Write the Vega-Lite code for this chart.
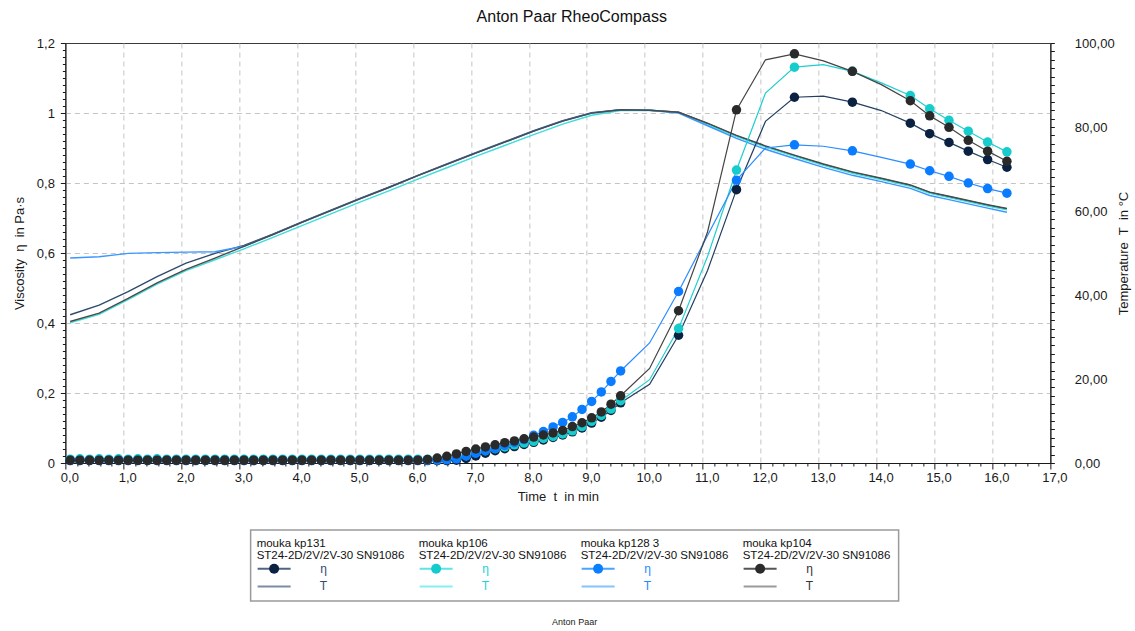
{
"$schema": "https://vega.github.io/schema/vega-lite/v6.json",
"padding": {"left": 12, "top": 8, "right": 2, "bottom": 2},
"background": "white",
"title": {"text": "Anton Paar RheoCompass", "fontSize": 16, "fontWeight": "normal", "color": "#111111", "anchor": "middle", "offset": 12},
"config": {
  "font": "Liberation Sans",
  "view": {"stroke": null},
  "axis": {"domainColor": "#1a1a1a", "domainWidth": 1, "tickColor": "#1a1a1a", "tickWidth": 1, "labelColor": "#1a1a1a", "labelFontSize": 13, "titleFontSize": 13, "titleFontWeight": "normal", "titleColor": "#1a1a1a", "labelOverlap": false, "labelFlush": false, "gridColor": "#c4c4c4", "gridDash": [5, 4], "gridWidth": 1}
},
"spacing": 25,
"center": true,
"datasets": {
"rheo": [
{"s":"kp131","t":0.083,"eta":0.007,"T":35.3},{"s":"kp131","t":0.25,"eta":0.007},{"s":"kp131","t":0.417,"eta":0.007},
{"s":"kp131","t":0.583,"eta":0.007,"T":37.6},{"s":"kp131","t":0.75,"eta":0.007},{"s":"kp131","t":0.917,"eta":0.007},
{"s":"kp131","t":1.083,"eta":0.007,"T":40.8},{"s":"kp131","t":1.25,"eta":0.007},{"s":"kp131","t":1.417,"eta":0.007},
{"s":"kp131","t":1.583,"eta":0.007,"T":44.4},{"s":"kp131","t":1.75,"eta":0.007},{"s":"kp131","t":1.917,"eta":0.007},
{"s":"kp131","t":2.083,"eta":0.007,"T":47.6},{"s":"kp131","t":2.25,"eta":0.007},{"s":"kp131","t":2.417,"eta":0.007},
{"s":"kp131","t":2.583,"eta":0.007,"T":49.9},{"s":"kp131","t":2.75,"eta":0.007},{"s":"kp131","t":2.917,"eta":0.007},
{"s":"kp131","t":3.083,"eta":0.007,"T":51.8},{"s":"kp131","t":3.25,"eta":0.007},{"s":"kp131","t":3.417,"eta":0.007},
{"s":"kp131","t":3.583,"eta":0.007,"T":54.5},{"s":"kp131","t":3.75,"eta":0.007},{"s":"kp131","t":3.917,"eta":0.007},
{"s":"kp131","t":4.083,"eta":0.007,"T":57.4},{"s":"kp131","t":4.25,"eta":0.007},{"s":"kp131","t":4.417,"eta":0.007},
{"s":"kp131","t":4.583,"eta":0.007,"T":60.2},{"s":"kp131","t":4.75,"eta":0.007},{"s":"kp131","t":4.917,"eta":0.007},
{"s":"kp131","t":5.083,"eta":0.007,"T":63.0},{"s":"kp131","t":5.25,"eta":0.007},{"s":"kp131","t":5.417,"eta":0.007},
{"s":"kp131","t":5.583,"eta":0.007,"T":65.7},{"s":"kp131","t":5.75,"eta":0.007},{"s":"kp131","t":5.917,"eta":0.007},
{"s":"kp131","t":6.083,"eta":0.007,"T":68.5},{"s":"kp131","t":6.25,"eta":0.007},{"s":"kp131","t":6.417,"eta":0.007},
{"s":"kp131","t":6.583,"eta":0.007,"T":71.2},{"s":"kp131","t":6.75,"eta":0.008},{"s":"kp131","t":6.917,"eta":0.013},
{"s":"kp131","t":7.083,"eta":0.020,"T":73.9},{"s":"kp131","t":7.25,"eta":0.028},{"s":"kp131","t":7.417,"eta":0.035},
{"s":"kp131","t":7.583,"eta":0.041,"T":76.5},{"s":"kp131","t":7.75,"eta":0.047},{"s":"kp131","t":7.917,"eta":0.053},
{"s":"kp131","t":8.083,"eta":0.059,"T":79.1},{"s":"kp131","t":8.25,"eta":0.066},{"s":"kp131","t":8.417,"eta":0.073},
{"s":"kp131","t":8.583,"eta":0.080,"T":81.5},{"s":"kp131","t":8.75,"eta":0.089},{"s":"kp131","t":8.917,"eta":0.100},
{"s":"kp131","t":9.083,"eta":0.114,"T":83.4},{"s":"kp131","t":9.25,"eta":0.131},{"s":"kp131","t":9.417,"eta":0.150},
{"s":"kp131","t":9.583,"eta":0.172,"T":84.1},
{"s":"kp131","t":10.083,"eta":0.225,"T":84.0,"m":0},{"s":"kp131","t":10.583,"eta":0.365,"T":83.5},
{"s":"kp131","t":11.083,"eta":0.55,"T":80.8,"m":0},{"s":"kp131","t":11.583,"eta":0.781,"T":77.9},
{"s":"kp131","t":12.083,"eta":0.976,"T":75.4,"m":0},{"s":"kp131","t":12.583,"eta":1.045,"T":73.2},
{"s":"kp131","t":13.083,"eta":1.048,"T":71.1,"m":0},{"s":"kp131","t":13.583,"eta":1.031,"T":69.2},
{"s":"kp131","t":14.083,"eta":1.007,"T":67.7,"m":0},{"s":"kp131","t":14.583,"eta":0.971,"T":66.1},
{"s":"kp131","t":14.917,"eta":0.941,"T":64.4},{"s":"kp131","t":15.25,"eta":0.916,"T":63.4},
{"s":"kp131","t":15.583,"eta":0.891,"T":62.4},{"s":"kp131","t":15.917,"eta":0.867,"T":61.4},
{"s":"kp131","t":16.25,"eta":0.845,"T":60.5},

{"s":"kp106","t":0.083,"eta":0.011,"T":33.4},{"s":"kp106","t":0.25,"eta":0.012},{"s":"kp106","t":0.417,"eta":0.011},
{"s":"kp106","t":0.583,"eta":0.012,"T":35.4},{"s":"kp106","t":0.75,"eta":0.011},{"s":"kp106","t":0.917,"eta":0.012},
{"s":"kp106","t":1.083,"eta":0.011,"T":38.9},{"s":"kp106","t":1.25,"eta":0.012},{"s":"kp106","t":1.417,"eta":0.011},
{"s":"kp106","t":1.583,"eta":0.012,"T":42.6},{"s":"kp106","t":1.75,"eta":0.011},{"s":"kp106","t":1.917,"eta":0.011},
{"s":"kp106","t":2.083,"eta":0.011,"T":45.8},{"s":"kp106","t":2.25,"eta":0.011},{"s":"kp106","t":2.417,"eta":0.011},
{"s":"kp106","t":2.583,"eta":0.011,"T":48.4},{"s":"kp106","t":2.75,"eta":0.011},{"s":"kp106","t":2.917,"eta":0.011},
{"s":"kp106","t":3.083,"eta":0.011,"T":51.0},{"s":"kp106","t":3.25,"eta":0.011},{"s":"kp106","t":3.417,"eta":0.011},
{"s":"kp106","t":3.583,"eta":0.011,"T":53.7},{"s":"kp106","t":3.75,"eta":0.011},{"s":"kp106","t":3.917,"eta":0.011},
{"s":"kp106","t":4.083,"eta":0.011,"T":56.5},{"s":"kp106","t":4.25,"eta":0.011},{"s":"kp106","t":4.417,"eta":0.011},
{"s":"kp106","t":4.583,"eta":0.011,"T":59.3},{"s":"kp106","t":4.75,"eta":0.011},{"s":"kp106","t":4.917,"eta":0.011},
{"s":"kp106","t":5.083,"eta":0.011,"T":62.1},{"s":"kp106","t":5.25,"eta":0.011},{"s":"kp106","t":5.417,"eta":0.011},
{"s":"kp106","t":5.583,"eta":0.011,"T":64.8},{"s":"kp106","t":5.75,"eta":0.011},{"s":"kp106","t":5.917,"eta":0.011},
{"s":"kp106","t":6.083,"eta":0.011,"T":67.6},{"s":"kp106","t":6.25,"eta":0.011},{"s":"kp106","t":6.417,"eta":0.011},
{"s":"kp106","t":6.583,"eta":0.013,"T":70.3},{"s":"kp106","t":6.75,"eta":0.017},{"s":"kp106","t":6.917,"eta":0.021},
{"s":"kp106","t":7.083,"eta":0.029,"T":73.0},{"s":"kp106","t":7.25,"eta":0.035},{"s":"kp106","t":7.417,"eta":0.041},
{"s":"kp106","t":7.583,"eta":0.046,"T":75.6},{"s":"kp106","t":7.75,"eta":0.052},{"s":"kp106","t":7.917,"eta":0.057},
{"s":"kp106","t":8.083,"eta":0.062,"T":78.2},{"s":"kp106","t":8.25,"eta":0.070},{"s":"kp106","t":8.417,"eta":0.076},
{"s":"kp106","t":8.583,"eta":0.083,"T":80.7},{"s":"kp106","t":8.75,"eta":0.092},{"s":"kp106","t":8.917,"eta":0.104},
{"s":"kp106","t":9.083,"eta":0.119,"T":82.8},{"s":"kp106","t":9.25,"eta":0.136},{"s":"kp106","t":9.417,"eta":0.154},
{"s":"kp106","t":9.583,"eta":0.178,"T":83.9},
{"s":"kp106","t":10.083,"eta":0.238,"T":84.0,"m":0},{"s":"kp106","t":10.583,"eta":0.384,"T":83.4},
{"s":"kp106","t":11.083,"eta":0.59,"T":80.6,"m":0},{"s":"kp106","t":11.583,"eta":0.837,"T":77.7},
{"s":"kp106","t":12.083,"eta":1.057,"T":75.2,"m":0},{"s":"kp106","t":12.583,"eta":1.131,"T":73.0},
{"s":"kp106","t":13.083,"eta":1.138,"T":70.9,"m":0},{"s":"kp106","t":13.583,"eta":1.119,"T":69.0},
{"s":"kp106","t":14.083,"eta":1.086,"T":67.5,"m":0},{"s":"kp106","t":14.583,"eta":1.05,"T":65.9},
{"s":"kp106","t":14.917,"eta":1.012,"T":64.2},{"s":"kp106","t":15.25,"eta":0.979,"T":63.2},
{"s":"kp106","t":15.583,"eta":0.948,"T":62.2},{"s":"kp106","t":15.917,"eta":0.917,"T":61.2},
{"s":"kp106","t":16.25,"eta":0.889,"T":60.3},

{"s":"kp128","t":0.083,"eta":0.008,"T":48.8},{"s":"kp128","t":0.25,"eta":0.008},{"s":"kp128","t":0.417,"eta":0.008},
{"s":"kp128","t":0.583,"eta":0.008,"T":49.1},{"s":"kp128","t":0.75,"eta":0.008},{"s":"kp128","t":0.917,"eta":0.008},
{"s":"kp128","t":1.083,"eta":0.008,"T":49.9},{"s":"kp128","t":1.25,"eta":0.008},{"s":"kp128","t":1.417,"eta":0.008},
{"s":"kp128","t":1.583,"eta":0.008,"T":50.1},{"s":"kp128","t":1.75,"eta":0.008},{"s":"kp128","t":1.917,"eta":0.008},
{"s":"kp128","t":2.083,"eta":0.008,"T":50.2},{"s":"kp128","t":2.25,"eta":0.008},{"s":"kp128","t":2.417,"eta":0.008},
{"s":"kp128","t":2.583,"eta":0.008,"T":50.3},{"s":"kp128","t":2.75,"eta":0.008},{"s":"kp128","t":2.917,"eta":0.008},
{"s":"kp128","t":3.083,"eta":0.008,"T":51.6},{"s":"kp128","t":3.25,"eta":0.008},{"s":"kp128","t":3.417,"eta":0.008},
{"s":"kp128","t":3.583,"eta":0.008,"T":54.4},{"s":"kp128","t":3.75,"eta":0.008},{"s":"kp128","t":3.917,"eta":0.008},
{"s":"kp128","t":4.083,"eta":0.008,"T":57.3},{"s":"kp128","t":4.25,"eta":0.008},{"s":"kp128","t":4.417,"eta":0.008},
{"s":"kp128","t":4.583,"eta":0.008,"T":60.1},{"s":"kp128","t":4.75,"eta":0.008},{"s":"kp128","t":4.917,"eta":0.008},
{"s":"kp128","t":5.083,"eta":0.008,"T":62.9},{"s":"kp128","t":5.25,"eta":0.008},{"s":"kp128","t":5.417,"eta":0.008},
{"s":"kp128","t":5.583,"eta":0.008,"T":65.6},{"s":"kp128","t":5.75,"eta":0.008},{"s":"kp128","t":5.917,"eta":0.008},
{"s":"kp128","t":6.083,"eta":0.008,"T":68.4},{"s":"kp128","t":6.25,"eta":0.008},{"s":"kp128","t":6.417,"eta":0.008},
{"s":"kp128","t":6.583,"eta":0.009,"T":71.1},{"s":"kp128","t":6.75,"eta":0.012},{"s":"kp128","t":6.917,"eta":0.020},
{"s":"kp128","t":7.083,"eta":0.028,"T":73.8},{"s":"kp128","t":7.25,"eta":0.035},{"s":"kp128","t":7.417,"eta":0.042},
{"s":"kp128","t":7.583,"eta":0.050,"T":76.4},{"s":"kp128","t":7.75,"eta":0.058},{"s":"kp128","t":7.917,"eta":0.067},
{"s":"kp128","t":8.083,"eta":0.079,"T":79.0},{"s":"kp128","t":8.25,"eta":0.090},{"s":"kp128","t":8.417,"eta":0.103},
{"s":"kp128","t":8.583,"eta":0.116,"T":81.4},{"s":"kp128","t":8.75,"eta":0.132},{"s":"kp128","t":8.917,"eta":0.153},
{"s":"kp128","t":9.083,"eta":0.176,"T":83.3},{"s":"kp128","t":9.25,"eta":0.203},{"s":"kp128","t":9.417,"eta":0.233},
{"s":"kp128","t":9.583,"eta":0.263,"T":84.1},
{"s":"kp128","t":10.083,"eta":0.343,"T":84.0,"m":0},{"s":"kp128","t":10.583,"eta":0.49,"T":83.3},
{"s":"kp128","t":11.083,"eta":0.65,"T":80.3,"m":0},{"s":"kp128","t":11.583,"eta":0.808,"T":77.3},
{"s":"kp128","t":12.083,"eta":0.9,"T":74.7,"m":0},{"s":"kp128","t":12.583,"eta":0.909,"T":72.5},
{"s":"kp128","t":13.083,"eta":0.905,"T":70.4,"m":0},{"s":"kp128","t":13.583,"eta":0.892,"T":68.5},
{"s":"kp128","t":14.083,"eta":0.873,"T":67.0,"m":0},{"s":"kp128","t":14.583,"eta":0.854,"T":65.4},
{"s":"kp128","t":14.917,"eta":0.835,"T":63.7},{"s":"kp128","t":15.25,"eta":0.819,"T":62.7},
{"s":"kp128","t":15.583,"eta":0.8,"T":61.7},{"s":"kp128","t":15.917,"eta":0.784,"T":60.7},
{"s":"kp128","t":16.25,"eta":0.771,"T":59.7},

{"s":"kp104","t":0.083,"eta":0.008,"T":33.7},{"s":"kp104","t":0.25,"eta":0.008},{"s":"kp104","t":0.417,"eta":0.008},
{"s":"kp104","t":0.583,"eta":0.008,"T":35.7},{"s":"kp104","t":0.75,"eta":0.008},{"s":"kp104","t":0.917,"eta":0.008},
{"s":"kp104","t":1.083,"eta":0.008,"T":39.2},{"s":"kp104","t":1.25,"eta":0.008},{"s":"kp104","t":1.417,"eta":0.008},
{"s":"kp104","t":1.583,"eta":0.008,"T":42.9},{"s":"kp104","t":1.75,"eta":0.008},{"s":"kp104","t":1.917,"eta":0.008},
{"s":"kp104","t":2.083,"eta":0.008,"T":46.1},{"s":"kp104","t":2.25,"eta":0.008},{"s":"kp104","t":2.417,"eta":0.008},
{"s":"kp104","t":2.583,"eta":0.008,"T":48.8},{"s":"kp104","t":2.75,"eta":0.008},{"s":"kp104","t":2.917,"eta":0.008},
{"s":"kp104","t":3.083,"eta":0.008,"T":51.6},{"s":"kp104","t":3.25,"eta":0.008},{"s":"kp104","t":3.417,"eta":0.008},
{"s":"kp104","t":3.583,"eta":0.008,"T":54.4},{"s":"kp104","t":3.75,"eta":0.008},{"s":"kp104","t":3.917,"eta":0.008},
{"s":"kp104","t":4.083,"eta":0.008,"T":57.3},{"s":"kp104","t":4.25,"eta":0.008},{"s":"kp104","t":4.417,"eta":0.008},
{"s":"kp104","t":4.583,"eta":0.008,"T":60.1},{"s":"kp104","t":4.75,"eta":0.008},{"s":"kp104","t":4.917,"eta":0.008},
{"s":"kp104","t":5.083,"eta":0.008,"T":62.9},{"s":"kp104","t":5.25,"eta":0.008},{"s":"kp104","t":5.417,"eta":0.008},
{"s":"kp104","t":5.583,"eta":0.008,"T":65.6},{"s":"kp104","t":5.75,"eta":0.008},{"s":"kp104","t":5.917,"eta":0.008},
{"s":"kp104","t":6.083,"eta":0.008,"T":68.4},{"s":"kp104","t":6.25,"eta":0.010},{"s":"kp104","t":6.417,"eta":0.014},
{"s":"kp104","t":6.583,"eta":0.019,"T":71.1},{"s":"kp104","t":6.75,"eta":0.026},{"s":"kp104","t":6.917,"eta":0.033},
{"s":"kp104","t":7.083,"eta":0.040,"T":73.8},{"s":"kp104","t":7.25,"eta":0.046},{"s":"kp104","t":7.417,"eta":0.052},
{"s":"kp104","t":7.583,"eta":0.058,"T":76.4},{"s":"kp104","t":7.75,"eta":0.063},{"s":"kp104","t":7.917,"eta":0.069},
{"s":"kp104","t":8.083,"eta":0.074,"T":79.0},{"s":"kp104","t":8.25,"eta":0.080},{"s":"kp104","t":8.417,"eta":0.086},
{"s":"kp104","t":8.583,"eta":0.093,"T":81.4},{"s":"kp104","t":8.75,"eta":0.104},{"s":"kp104","t":8.917,"eta":0.115},
{"s":"kp104","t":9.083,"eta":0.129,"T":83.3},{"s":"kp104","t":9.25,"eta":0.146},{"s":"kp104","t":9.417,"eta":0.168},
{"s":"kp104","t":9.583,"eta":0.192,"T":84.1},
{"s":"kp104","t":10.083,"eta":0.27,"T":84.0,"m":0},{"s":"kp104","t":10.583,"eta":0.435,"T":83.5},
{"s":"kp104","t":11.083,"eta":0.66,"T":80.9,"m":0},{"s":"kp104","t":11.583,"eta":1.009,"T":78.0},
{"s":"kp104","t":12.083,"eta":1.152,"T":75.5,"m":0},{"s":"kp104","t":12.583,"eta":1.169,"T":73.3},
{"s":"kp104","t":13.083,"eta":1.149,"T":71.2,"m":0},{"s":"kp104","t":13.583,"eta":1.119,"T":69.3},
{"s":"kp104","t":14.083,"eta":1.081,"T":67.8,"m":0},{"s":"kp104","t":14.583,"eta":1.035,"T":66.2},
{"s":"kp104","t":14.917,"eta":0.992,"T":64.5},{"s":"kp104","t":15.25,"eta":0.959,"T":63.5},
{"s":"kp104","t":15.583,"eta":0.922,"T":62.5},{"s":"kp104","t":15.917,"eta":0.891,"T":61.5},
{"s":"kp104","t":16.25,"eta":0.862,"T":60.6}
],
"leg": [
{"s":"kp131","row":"header","label":"mouka kp131\nST24-2D/2V/2V-30 SN91086"},
{"s":"kp131","row":"eta","label":"η"},{"s":"kp131","row":"T","label":"T"},
{"s":"kp106","row":"header","label":"mouka kp106\nST24-2D/2V/2V-30 SN91086"},
{"s":"kp106","row":"eta","label":"η"},{"s":"kp106","row":"T","label":"T"},
{"s":"kp128","row":"header","label":"mouka kp128 3\nST24-2D/2V/2V-30 SN91086"},
{"s":"kp128","row":"eta","label":"η"},{"s":"kp128","row":"T","label":"T"},
{"s":"kp104","row":"header","label":"mouka kp104\nST24-2D/2V/2V-30 SN91086"},
{"s":"kp104","row":"eta","label":"η"},{"s":"kp104","row":"T","label":"T"}
]
},
"vconcat": [
{
  "width": 985,
  "height": 420,
  "data": {"name": "rheo"},
  "view": {"stroke": "#3a3a3a", "strokeWidth": 1},
  "layer": [
    {
      "transform": [{"filter": "isValid(datum.T)"}],
      "mark": {"type": "line", "strokeWidth": 1.4},
      "encoding": {
        "x": {
          "field": "t", "type": "quantitative",
          "scale": {"domain": [0, 17], "nice": false, "zero": false},
          "axis": {
            "orient": "bottom",
            "title": "Time\u00a0 t\u00a0 in min",
            "values": [0,1,2,3,4,5,6,7,8,9,10,11,12,13,14,15,16,17],
            "labelExpr": "replace(format(datum.value, '.1f'), '.', ',')",
            "grid": true,
            "gridOpacity": {"condition": {"test": "datum.value > 0.5 && datum.value < 16.5", "value": 1}, "value": 0},
            "tickSize": 6,
            "labelPadding": 2,
            "labelOffset": 4,
            "titlePadding": 6
          }
        },
        "y": {
          "field": "T", "type": "quantitative",
          "scale": {"domain": [0, 100], "nice": false, "zero": false},
          "axis": {
            "orient": "right",
            "title": "Temperature\u00a0 T\u00a0 in °C",
            "titleAngle": 270,
            "values": [0,2,4,6,8,10,12,14,16,18,20,22,24,26,28,30,32,34,36,38,40,42,44,46,48,50,52,54,56,58,60,62,64,66,68,70,72,74,76,78,80,82,84,86,88,90,92,94,96,98,100],
            "labelExpr": "datum.value % 20 == 0 ? replace(format(datum.value, '.2f'), '.', ',') : ''",
            "grid": false,
            "tickSize": 4,
            "labelPadding": 20,
            "titlePadding": 16
          }
        },
        "color": {
          "field": "s", "type": "nominal",
          "scale": {"domain": ["kp131", "kp106", "kp128", "kp104"], "range": ["#2e4b6d", "#3fdcdc", "#3a97ff", "#4a4a4a"]},
          "legend": null
        }
      }
    },
    {
      "mark": {"type": "line", "strokeWidth": 1.2},
      "encoding": {
        "x": {
          "field": "t", "type": "quantitative",
          "axis": {
            "orient": "bottom",
            "title": null, "labels": false, "grid": false, "domain": false,
            "values": [0.2,0.4,0.6,0.8,1.2,1.4,1.6,1.8,2.2,2.4,2.6,2.8,3.2,3.4,3.6,3.8,4.2,4.4,4.6,4.8,5.2,5.4,5.6,5.8,6.2,6.4,6.6,6.8,7.2,7.4,7.6,7.8,8.2,8.4,8.6,8.8,9.2,9.4,9.6,9.8,10.2,10.4,10.6,10.8,11.2,11.4,11.6,11.8,12.2,12.4,12.6,12.8,13.2,13.4,13.6,13.8,14.2,14.4,14.6,14.8,15.2,15.4,15.6,15.8,16.2,16.4,16.6,16.8],
            "tickSize": 3
          }
        },
        "y": {
          "field": "eta", "type": "quantitative",
          "scale": {"domain": [0, 1.2], "nice": false, "zero": false},
          "axis": {
            "orient": "left",
            "title": "Viscosity\u00a0 η\u00a0 in Pa·s",
            "values": [0,0.2,0.4,0.6,0.8,1,1.2],
            "labelExpr": "replace(format(datum.value, '~g'), '.', ',')",
            "grid": true,
            "gridOpacity": {"condition": {"test": "datum.value > 0.1 && datum.value < 1.1", "value": 1}, "value": 0},
            "tickSize": 5,
            "labelPadding": 6,
            "titlePadding": 10
          }
        },
        "stroke": {
          "field": "s", "type": "nominal",
          "scale": {"domain": ["kp131", "kp106", "kp128", "kp104"], "range": ["#233f62", "#1fcfcf", "#2a8cff", "#444444"]},
          "legend": null
        }
      }
    },
    {
      "transform": [{"filter": "datum.m != 0"}],
      "mark": {"type": "point", "filled": true, "size": 90, "opacity": 1},
      "encoding": {
        "x": {"field": "t", "type": "quantitative", "axis": null},
        "y": {
          "field": "eta", "type": "quantitative",
          "scale": {"domain": [0, 1.2], "nice": false, "zero": false},
          "axis": {
            "orient": "left", "title": null, "labels": false, "grid": false, "domain": false,
            "values": [0.02,0.04,0.06,0.08,0.1,0.12,0.14,0.16,0.18,0.22,0.24,0.26,0.28,0.3,0.32,0.34,0.36,0.38,0.42,0.44,0.46,0.48,0.5,0.52,0.54,0.56,0.58,0.62,0.64,0.66,0.68,0.7,0.72,0.74,0.76,0.78,0.82,0.84,0.86,0.88,0.9,0.92,0.94,0.96,0.98,1.02,1.04,1.06,1.08,1.1,1.12,1.14,1.16,1.18],
            "tickSize": 3
          }
        },
        "fill": {
          "field": "s", "type": "nominal",
          "scale": {"domain": ["kp131", "kp106", "kp128", "kp104"], "range": ["#0b2142", "#17cccc", "#0a7cff", "#2a2a2a"]},
          "legend": null
        }
      }
    }
  ],
  "resolve": {"scale": {"y": "independent"}, "axis": {"x": "independent"}}
},
{
  "width": 648,
  "height": 71,
  "data": {"name": "leg"},
  "view": {"stroke": "#9a9a9a", "strokeWidth": 1.5},
  "title": {"text": "Anton Paar", "orient": "bottom", "anchor": "middle", "frame": "group", "fontSize": 9, "fontWeight": "normal", "color": "#222222", "offset": 17},
  "encoding": {
    "x": {"field": "s", "type": "nominal", "scale": {"type": "band", "domain": ["kp131", "kp106", "kp128", "kp104"], "paddingInner": 0, "paddingOuter": 0}, "axis": null},
    "y": {"field": "row", "type": "nominal", "scale": {"type": "point", "domain": ["header", "eta", "T"], "padding": 1.21875, "align": 0.59}, "axis": {"orient": "right", "title": null, "labels": false, "ticks": false, "domain": false, "grid": false, "minExtent": 46, "maxExtent": 46}}
  },
  "layer": [
    {
      "transform": [{"filter": "datum.row == 'header'"}],
      "mark": {"type": "text", "align": "left", "baseline": "middle", "lineBreak": "\n", "lineHeight": 11.5, "dx": 6, "dy": -6.5, "fontSize": 11.5, "color": "#111111"},
      "encoding": {
        "x": {"field": "s", "type": "nominal", "bandPosition": 0},
        "text": {"field": "label"}
      }
    },
    {
      "transform": [{"filter": "datum.row != 'header'"}],
      "mark": {"type": "text", "align": "center", "baseline": "middle", "fontSize": 12},
      "encoding": {
        "x": {"field": "s", "type": "nominal", "bandPosition": 0.45},
        "text": {"field": "label"},
        "color": {"field": "s", "type": "nominal", "scale": {"domain": ["kp131", "kp106", "kp128", "kp104"], "range": ["#2f4d72", "#22d3d3", "#1a8cff", "#333333"]}, "legend": null}
      }
    },
    {
      "transform": [{"filter": "datum.row == 'eta'"}],
      "mark": {"type": "point", "shape": "M-1,0L1,0", "size": 1089, "filled": false, "strokeWidth": 2, "opacity": 1},
      "encoding": {
        "x": {"field": "s", "type": "nominal", "bandPosition": 0.145},
        "color": {"field": "s", "type": "nominal", "scale": {"domain": ["kp131", "kp106", "kp128", "kp104"], "range": ["#4f6580", "#5fe3e3", "#4aa3ff", "#555555"]}, "legend": null}
      }
    },
    {
      "transform": [{"filter": "datum.row == 'eta'"}],
      "mark": {"type": "point", "shape": "circle", "size": 100, "filled": true, "opacity": 1},
      "encoding": {
        "x": {"field": "s", "type": "nominal", "bandPosition": 0.145},
        "color": {"field": "s", "type": "nominal", "scale": {"domain": ["kp131", "kp106", "kp128", "kp104"], "range": ["#0b2244", "#14cccc", "#0a80ff", "#2b2b2b"]}, "legend": null}
      }
    },
    {
      "transform": [{"filter": "datum.row == 'T'"}],
      "mark": {"type": "point", "shape": "M-1,0L1,0", "size": 1089, "filled": false, "strokeWidth": 2, "opacity": 1},
      "encoding": {
        "x": {"field": "s", "type": "nominal", "bandPosition": 0.145},
        "color": {"field": "s", "type": "nominal", "scale": {"domain": ["kp131", "kp106", "kp128", "kp104"], "range": ["#7b8ca3", "#86efef", "#86c3ff", "#9a9a9a"]}, "legend": null}
      }
    }
  ],
  "resolve": {"scale": {"color": "independent"}}
}
]
}
